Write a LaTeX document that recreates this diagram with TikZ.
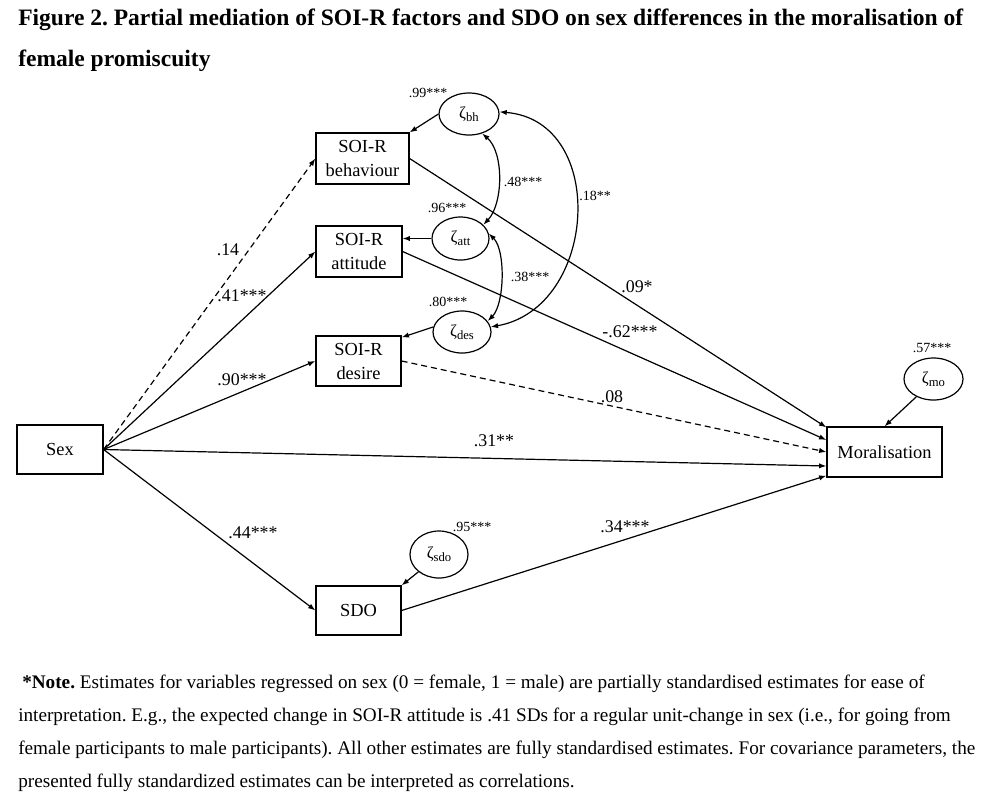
\documentclass[tikz,border=0pt]{standalone}
\usepackage{fontspec}
\setmainfont{Liberation Serif}
\usetikzlibrary{arrows.meta,shapes.geometric}
\newlength\mylen
\newcommand\zt[1]{{\fontsize{12.5pt}{13pt}\selectfont ζ\raisebox{-0.35ex}{\fontsize{9.5pt}{9.5pt}\selectfont #1}}}
\AtBeginDocument{%
\frenchspacing
\settowidth\mylen{\fontsize{10pt}{12pt}\selectfont\bfseries Figure 2. Partial mediation of SOI-R factors and SDO on sex differences in the moralisation of}%
\pgfmathsetmacro\tsz{10*708.75/\mylen}\global\let\tsz\tsz
\settowidth\mylen{\fontsize{10pt}{12pt}\selectfont female participants to male participants). All other estimates are fully standardised estimates. For covariance parameters, the}%
\pgfmathsetmacro\nsz{10*717.75/\mylen}\global\let\nsz\nsz}
\begin{document}
\begin{tikzpicture}[x=0.75pt,y=-0.75pt,
  wh/.style 2 args={minimum width=#1*0.75pt,minimum height=#2*0.75pt},
  box/.style={draw,line width=0.9pt,inner sep=0pt,align=center,font=\fontsize{13.8pt}{18pt}\selectfont},
  err/.style={draw,ellipse,line width=0.9pt,inner sep=0pt},
  path/.style={line width=0.9pt,-{Latex[length=5.5pt,width=4pt]}},
  cov/.style={line width=0.9pt,{Latex[length=5.5pt,width=4pt]}-{Latex[length=5.5pt,width=4pt]}},
  dsh/.style={dash pattern=on 4.5pt off 3pt},
  big/.style={font=\fontsize{13.4pt}{14pt}\selectfont,inner sep=0pt},
  sml/.style={font=\fontsize{10.5pt}{11pt}\selectfont,inner sep=0pt},
  txt/.style={anchor=base west,inner sep=0pt}
]
\frenchspacing
\useasboundingbox (0,0) rectangle (984,797);

% title
\node[txt] (t1) at (18,25) {\fontsize{\tsz pt}{\tsz pt}\selectfont\bfseries Figure 2. Partial mediation of SOI-R factors and SDO on sex differences in the moralisation of};
\node[txt] (t2) at (18,66) {\fontsize{\tsz pt}{\tsz pt}\selectfont\bfseries female promiscuity};

% boxes
\node[box,wh={86}{49}] (sex) at (60,449.5) {Sex};
\node[box,wh={93}{51}] (beh) at (362.5,158.5) {SOI-R\\behaviour};
\node[box,wh={86}{51}] (att) at (359,251.5) {SOI-R\\attitude};
\node[box,wh={85}{50}] (des) at (358.5,361) {SOI-R\\desire};
\node[box,wh={85}{49}] (sdo) at (358.5,610.5) {SDO};
\node[box,wh={115}{50}] (mor) at (884.5,452) {Moralisation};

% error terms
\node[err,wh={60}{42}] (zbh) at (469,114) {\zt{bh}};
\node[err,wh={57}{43}] (zatt) at (460.5,238.5) {\zt{att}};
\node[err,wh={58}{42}] (zdes) at (462,332) {\zt{des}};
\node[err,wh={58}{47}] (zsdo) at (439,554.5) {\zt{sdo}};
\node[err,wh={59}{42}] (zmo) at (933.5,379) {\zt{mo}};

% paths
\draw[path,dsh] (sex.east) -- (beh.west);
\draw[path] (sex.east) -- (att.west);
\draw[path] (sex.east) -- (des.west);
\draw[path] (sex.east) -- (sdo.west);
\draw[path] (sex.east) -- ([yshift=-10.5pt]mor.west);
\draw[path] (beh.east) -- ([yshift=-0.75pt]mor.north west);
\draw[path] (att.east) -- ([yshift=9pt]mor.west);
\draw[path,dsh] (des.east) -- (mor.west);
\draw[path] (sdo.east) -- ([yshift=1.5pt]mor.south west);

% residual arrows
\draw[path] (zbh.west) -- (beh.north east);
\draw[path] (zatt.west) -- (zatt.west -| att.east);
\draw[path] (zdes.170) -- ([yshift=-1.5pt]des.north east);
\draw[path] (zsdo.220) -- (sdo.north east);
\draw[path] (zmo.226) -- (mor.north);

% covariances
\draw[cov] (zbh.-56) .. controls +(22,19) and +(20,-21) .. (zatt.31);
\draw[cov] (zatt.10) .. controls +(17,17) and +(17,-17) .. (zdes.23);
\draw[cov] (zbh.4) .. controls +(109,9) and +(107,-19) .. (zdes.10);

% path labels
\node[big] (l14) at (228,250) {.14};
\node[big] (l41) at (242,296) {.41***};
\node[big] (l90) at (242,380) {.90***};
\node[big] (l44) at (253,533) {.44***};
\node[big] (l31) at (494,441) {.31**};
\node[big] (l09) at (637,287) {.09*};
\node[big] (l62) at (630,332) {-.62***};
\node[big] (l08) at (612,397) {.08};
\node[big] (l34) at (625,527) {.34***};

% small labels
\node[sml] (l99) at (428,93) {.99***};
\node[sml] (l48) at (523,182) {.48***};
\node[sml] (l18) at (595,196) {.18**};
\node[sml] (l96) at (447,208) {.96***};
\node[sml] (l38) at (530,277) {.38***};
\node[sml] (l80) at (448,302) {.80***};
\node[sml] (l95) at (472,527) {.95***};
\node[sml] (l57) at (932,348) {.57***};

% note
\node[txt] (n1) at (22,688) {\fontsize{\nsz pt}{\nsz pt}\selectfont\textbf{*Note.} Estimates for variables regressed on sex (0 = female, 1 = male) are partially standardised estimates for ease of};
\node[txt] (n2) at (18,721) {\fontsize{\nsz pt}{\nsz pt}\selectfont interpretation. E.g., the expected change in SOI-R attitude is .41 SDs for a regular unit-change in sex (i.e., for going from};
\node[txt] (n3) at (18,754) {\fontsize{\nsz pt}{\nsz pt}\selectfont female participants to male participants). All other estimates are fully standardised estimates. For covariance parameters, the};
\node[txt] (n4) at (18,787) {\fontsize{\nsz pt}{\nsz pt}\selectfont presented fully standardized estimates can be interpreted as correlations.};
\end{tikzpicture}
\end{document}
